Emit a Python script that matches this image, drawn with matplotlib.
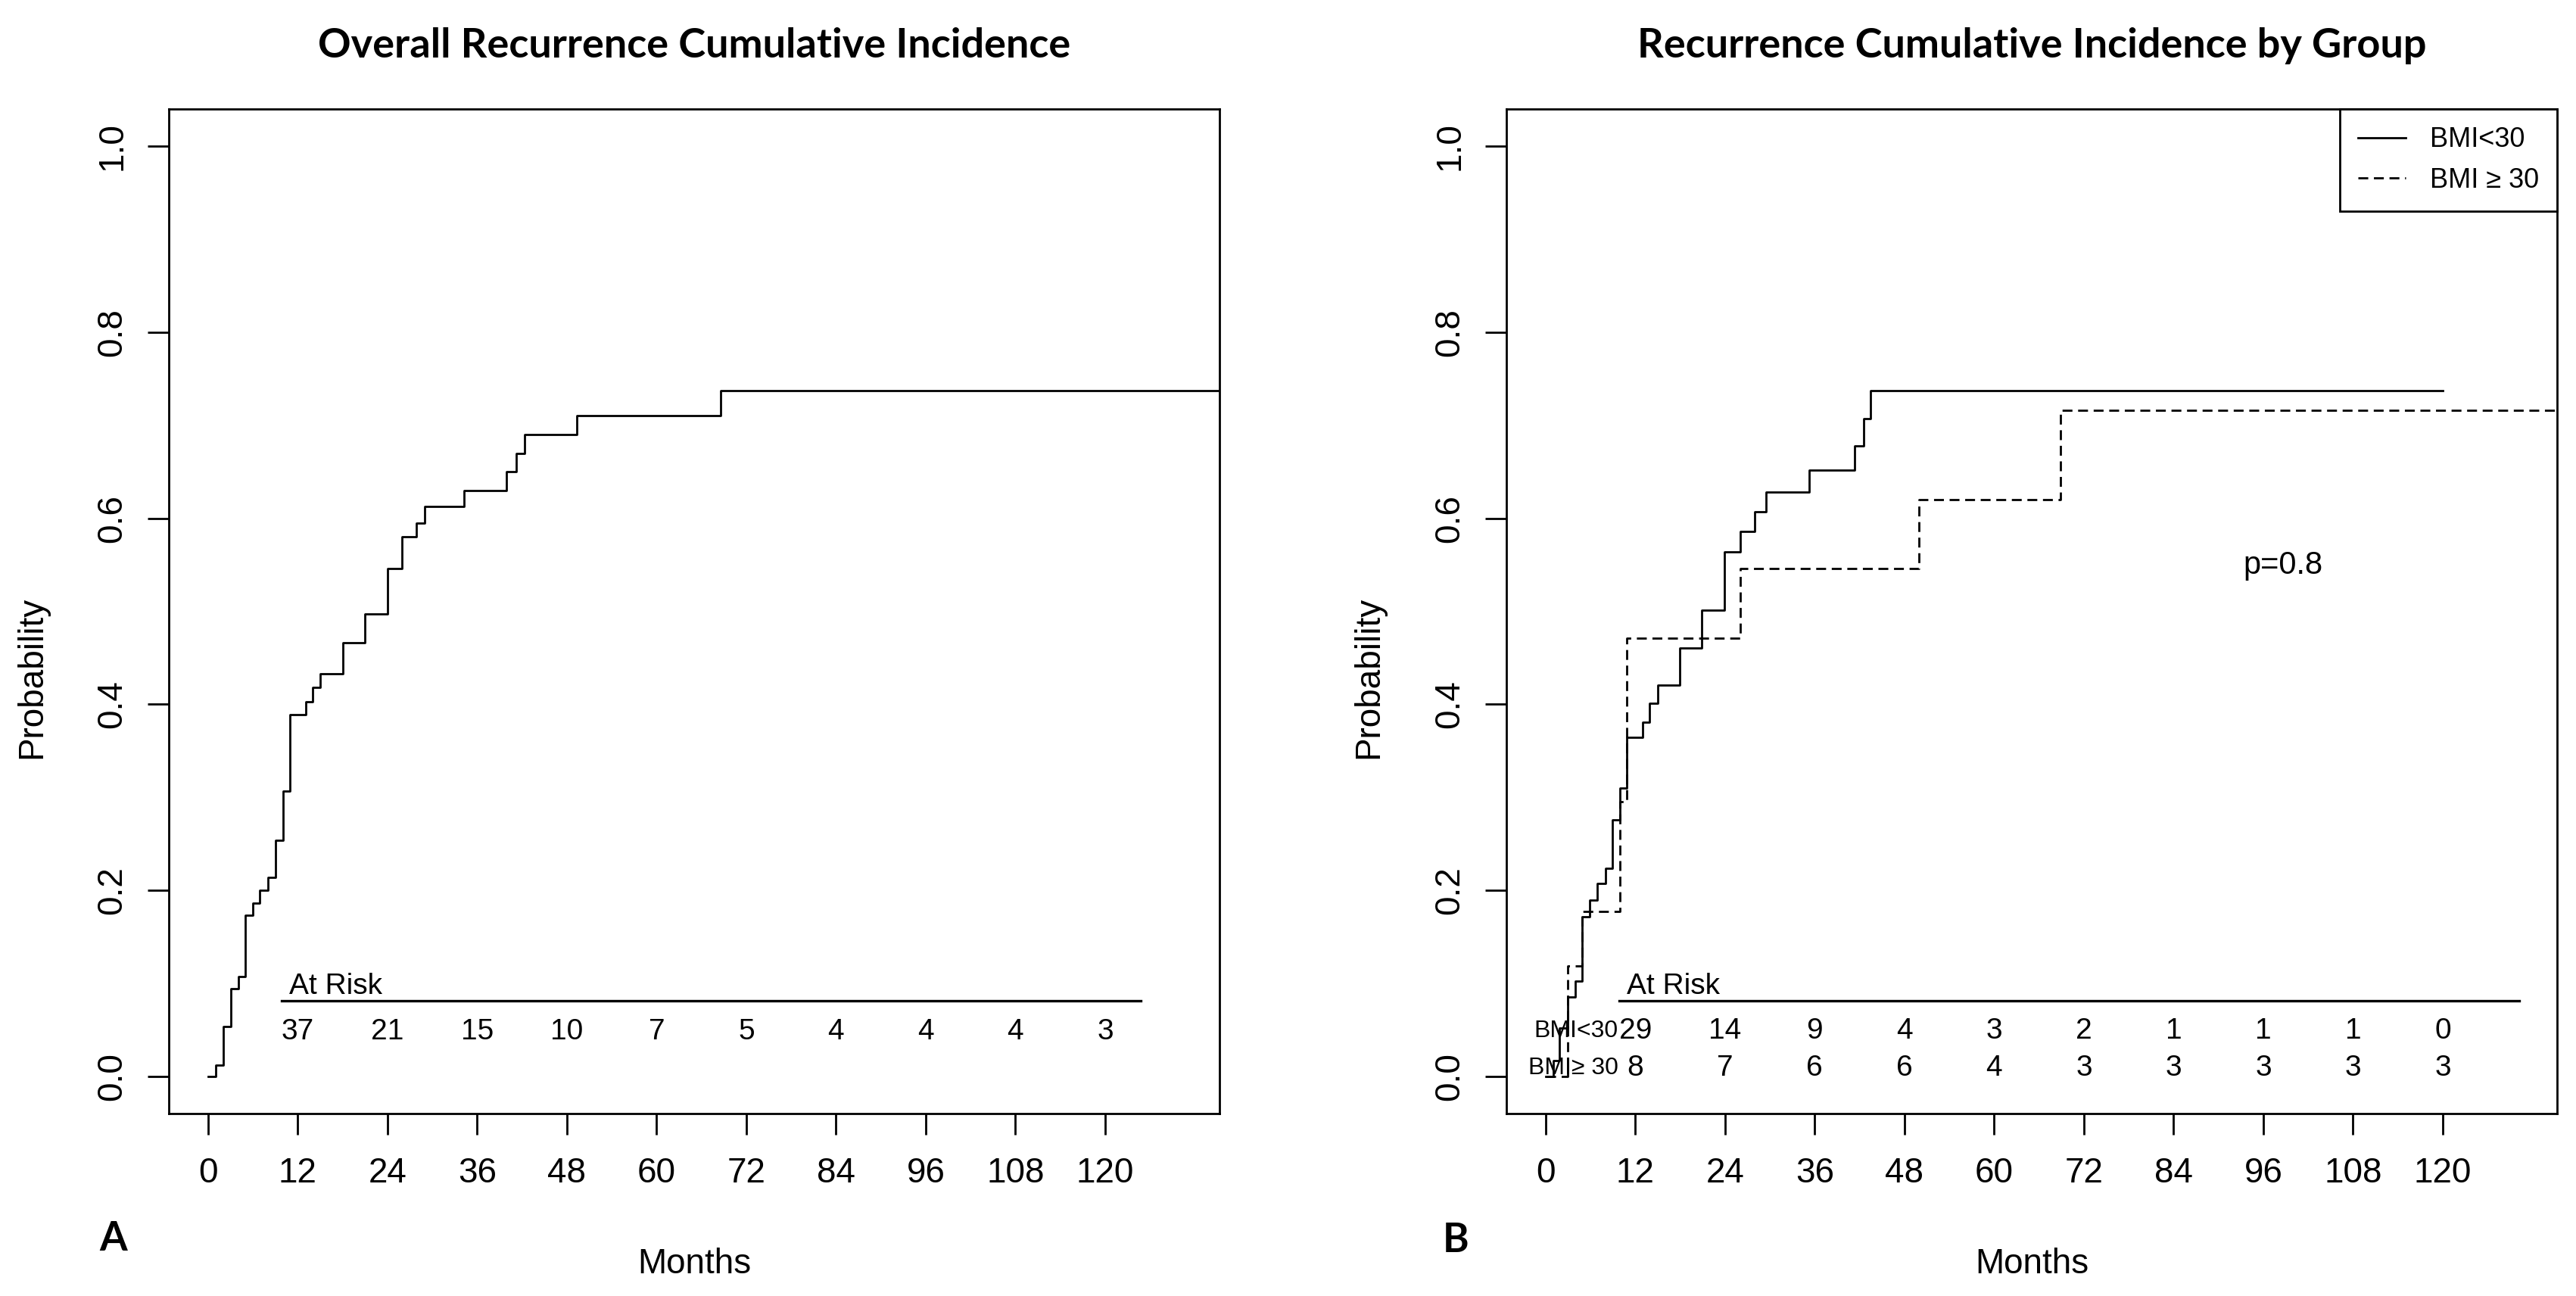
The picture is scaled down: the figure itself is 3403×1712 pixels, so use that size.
import matplotlib
matplotlib.use("Agg")
import matplotlib.pyplot as plt
from matplotlib.lines import Line2D

W, H, DPI = 3403, 1712, 200

MONTH_TICKS = [0, 12, 24, 36, 48, 60, 72, 84, 96, 108, 120]
PROB_TICKS = [0.0, 0.2, 0.4, 0.6, 0.8, 1.0]

TITLE_A = "Overall Recurrence Cumulative Incidence"
TITLE_B = "Recurrence Cumulative Incidence by Group"

# overall cumulative incidence (step times in months, probability after step)
overall_t = [0, 1.0, 2.05, 3.05, 4.02, 4.99, 5.95, 6.92, 8.01, 9.04, 10.01,
             10.98, 13.04, 14.0, 14.97, 18.0, 20.96, 23.99, 25.9, 27.86,
             29.0, 34.2, 39.9, 41.2, 42.3, 49.3, 68.6]
overall_p = [0, 0.0124, 0.0532, 0.094, 0.107, 0.1734, 0.186, 0.200, 0.214,
             0.254, 0.307, 0.389, 0.403, 0.418, 0.433, 0.466, 0.497, 0.546,
             0.580, 0.595, 0.613, 0.630, 0.650, 0.670, 0.690, 0.710, 0.737]
overall_end = 140

# BMI<30
low_t = [0, 1.0, 1.8, 2.96, 3.92, 4.89, 5.92, 6.95, 7.99, 8.96, 9.93, 10.89,
         12.96, 13.93, 14.96, 17.93, 20.9, 23.93, 26.0, 28.0, 29.5, 35.3,
         41.3, 42.5, 43.5]
low_p = [0, 0.017, 0.052, 0.0857, 0.1026, 0.1718, 0.1893, 0.2072, 0.2235,
         0.2755, 0.3099, 0.3642, 0.3811, 0.4014, 0.4209, 0.4605, 0.501,
         0.5641, 0.5861, 0.607, 0.628, 0.652, 0.678, 0.707, 0.737]
low_end = 120

# BMI >= 30
high_t = [0, 2.96, 4.9, 9.93, 10.9, 26.0, 49.9, 68.9]
high_p = [0, 0.1185, 0.177, 0.295, 0.471, 0.546, 0.620, 0.716]
high_end = 140

GROUP_LABELS = ["BMI<30", "BMI \u2265 30"]
ROW_LABELS = ["BMI<30", "BMI\u2265 30"]

risk_times = [12, 24, 36, 48, 60, 72, 84, 96, 108, 120]
risk_overall = [37, 21, 15, 10, 7, 5, 4, 4, 4, 3]
risk_low = [29, 14, 9, 4, 3, 2, 1, 1, 1, 0]
risk_high = [8, 7, 6, 6, 4, 3, 3, 3, 3, 3]

P_TEXT = "p=0.8"

SANS = ["Liberation Sans", "DejaVu Sans"]
HEAD = ["Lato", "DejaVu Sans"]

plt.rcParams["font.family"] = SANS
plt.rcParams["axes.linewidth"] = 1.0


def frac(x, y):
    return x / W, 1 - y / H


def axes_at(fig, x0, y0, x1, y1):
    return fig.add_axes([x0 / W, 1 - y1 / H, (x1 - x0) / W, (y1 - y0) / H])


def style_axis(ax):
    ax.set_xlim(-5.25, 135.3)
    ax.set_ylim(-0.04, 1.04)
    ax.set_xticks(MONTH_TICKS)
    ax.set_xticklabels([str(m) for m in MONTH_TICKS])
    ax.set_yticks(PROB_TICKS)
    ax.set_yticklabels(["{:.1f}".format(p) for p in PROB_TICKS])
    ax.tick_params(axis="both", length=10, width=1.0, labelsize=16.5,
                   direction="out", color="black")
    ax.tick_params(axis="x", pad=10.5)
    ax.tick_params(axis="y", pad=9, labelrotation=90)
    for lab in ax.get_yticklabels():
        lab.set_va("center")
    for s in ax.spines.values():
        s.set_linewidth(1.0)
        s.set_color("black")


def step(ax, ts, ps, end, **kw):
    ax.step(list(ts) + [end], list(ps) + [ps[-1]], where="post",
            color="black", lw=1.0, **kw)


def at_risk_header(ax, line_end):
    ax.text(10.8, 0.097, "At Risk", fontsize=14, ha="left", va="center")
    ax.plot([9.8, line_end], [0.081, 0.081], color="black", lw=1.2)


def main():
    fig = plt.figure(figsize=(W / DPI, H / DPI), dpi=DPI)

    # panel A
    ax = axes_at(fig, 223, 144, 1611, 1471)
    style_axis(ax)
    step(ax, overall_t, overall_p, overall_end)
    at_risk_header(ax, 124.8)
    for t, n in zip(risk_times, risk_overall):
        ax.text(t, 0.048, str(n), fontsize=14, ha="center", va="center")

    # panel B
    bx = axes_at(fig, 1990, 144, 3378, 1471)
    style_axis(bx)
    step(bx, low_t, low_p, low_end)
    step(bx, high_t, high_p, high_end, dashes=(4.7, 2.7))
    at_risk_header(bx, 130.2)
    for row_y, label, counts in [(0.049, ROW_LABELS[0], risk_low),
                                 (0.009, ROW_LABELS[1], risk_high)]:
        bx.text(9.7, row_y, label, fontsize=11.5, ha="right", va="center")
        for t, n in zip(risk_times, counts):
            bx.text(t, row_y, str(n), fontsize=14, ha="center", va="center")
    bx.text(98.6, 0.549, P_TEXT, fontsize=15, ha="center", va="center")

    handles = [Line2D([], [], color="black", lw=1.0),
               Line2D([], [], color="black", lw=1.0, dashes=(4.7, 2.7))]
    leg = bx.legend(handles, GROUP_LABELS, loc="upper right",
                    bbox_to_anchor=(1, 1), borderaxespad=0, fancybox=False,
                    edgecolor="black", framealpha=1, fontsize=13,
                    handlelength=1.75, handletextpad=0.9, borderpad=0.65,
                    labelspacing=0.5)
    leg.get_frame().set_linewidth(1.0)

    # titles, axis labels and panel letters
    for cx, title in [((223 + 1611) / 2, TITLE_A), ((1990 + 3378) / 2, TITLE_B)]:
        fig.text(*frac(cx, 76), title, family=HEAD, weight="bold",
                 fontsize=19.5, ha="center", va="baseline")
        fig.text(*frac(cx, 1682), "Months", fontsize=16.5, ha="center",
                 va="baseline")
    for lx in [42, 1808]:
        fig.text(*frac(lx, 895), "Probability", fontsize=16.5, rotation=90,
                 ha="center", va="center")
    fig.text(*frac(150, 1652), "A", family=HEAD, weight="bold", fontsize=19,
             ha="center", va="baseline")
    fig.text(*frac(1923, 1654), "B", family=HEAD, weight="bold", fontsize=19,
             ha="center", va="baseline")

    fig.savefig("out.png", dpi=DPI, facecolor="white")
    plt.close(fig)


if __name__ == "__main__":
    main()
